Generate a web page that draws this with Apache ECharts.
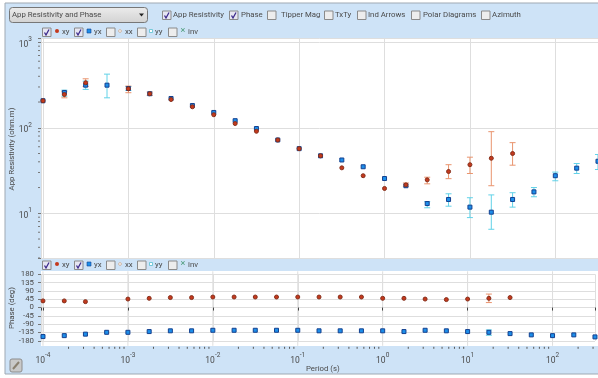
<!DOCTYPE html>
<html><head><meta charset="utf-8">
<style>html,body{margin:0;padding:0;background:#fff;overflow:hidden}#c{width:598px;height:378px}#c canvas{filter:blur(.35px)}</style>
<script src="https://cdn.jsdelivr.net/npm/echarts@6/dist/echarts.min.js"></script>
</head><body><div id="c"></div>
<script>
const periods=[1e-4,1.78e-4,3.16e-4,5.62e-4,1e-3,1.78e-3,3.16e-3,5.62e-3,1e-2,1.78e-2,3.16e-2,5.62e-2,1e-1,1.78e-1,3.16e-1,5.62e-1,1,1.78,3.16,5.62,10,17.8,31.6,56.2,100,178,316];
const xyRes=[207,245,336,null,286,250,214,176,142,112,91,72,57,47,34,27.5,19.5,21.5,24.6,30.8,37,44,50,null,null,null,null];
const xyResLow=[null,224,304,null,257,239,null,null,null,null,null,null,null,null,null,null,null,20.6,22.1,25.4,29.2,21,36.5,null,null,null,null];
const xyResHigh=[null,264,374,null,307,262,null,null,null,null,null,null,null,null,null,null,null,22.6,26.4,37,45.3,90,67,null,null,null,null];
const yxRes=[207,259,315,315,288,250,220,182,151,121,98,72,57,47,42,35,25.5,21,13,14.5,11.8,10.3,14.5,17.8,27.5,33.7,40.6];
const yxResLow=[null,234,281,224,273,null,null,null,null,null,null,null,null,null,null,null,null,null,11.6,12.1,8.9,6.5,11.8,15.6,24,29.2,32.5];
const yxResHigh=[null,275,351,424,304,null,null,null,null,null,null,null,null,null,null,null,null,null,13.7,16.9,15.2,16.4,17.4,20,30.3,38.2,48.7];
const xyPhase=[36,36,32,null,46,50,54,54,57,57,57,57,57,57,57,57,50,50,46,43,46,50,54,null,null,null,null];
const xyPhaseLow=[null,null,null,null,null,null,null,null,null,null,null,null,null,null,null,null,null,null,null,null,null,27,null,null,null,null,null];
const xyPhaseHigh=[null,null,null,null,null,null,null,null,null,null,null,null,null,null,null,null,null,null,null,null,null,73,null,null,null,null,null];
const yxPhase=[-157,-152,-144,-134,-134,-130,-126,-126,-123,-123,-123,-123,-123,-126,-126,-126,-126,-130,-123,-126,-130,-134,-141,-148,-152,-148,-159];
const yxPhaseLow=[null,null,null,null,null,null,null,null,null,null,null,null,null,null,null,null,null,null,null,null,null,-150,null,null,null,null,null];
const yxPhaseHigh=[null,null,null,null,null,null,null,null,null,null,null,null,null,null,null,null,null,null,null,null,null,-121,null,null,null,null,null];
const phaseTicks=[-180,-135,-90,-45,0,45,90,135,180];
const periodDecades=[1e-4,1e-3,1e-2,1e-1,1,10,100];
const resDecades=[1,10,100,1000];
const minorMultipliers=[2,3,4,5,6,7,8,9];
const topChecks=['App Resistivity','Phase','Tipper Mag','TxTy','Ind Arrows','Polar Diagrams','Azimuth'];
const topChecked=[true,true,false,false,false,false,false];
const legendNames=['xy','yx','xx','yy','inv'];
const legendChecked=[true,true,false,false,false];
const dropdownText='App Resistivity and Phase';
const resAxisName='App Resistivity (ohm.m)';
const phaseAxisName='Phase (deg)';
const periodAxisName='Period (s)';

const FONT='Roboto', TC='#4a4a4a', FS=7.8;
const RED='#c4391d', REDB='#86301c', BLUE='#1c8eea', BLUEB='#14408f', REDE='#e9946e', BLUEE='#62d2e8', GRID='#dedede';
const xMin=Math.pow(10,-4.0234), xMax=Math.pow(10,2.5);
const yMin=Math.pow(10,0.477), yMax=Math.pow(10,3.044);

function rows(vals){return periods.map((p,i)=>vals[i]==null?[p,null]:[p,vals[i]]);}
function errs(low,high){const o=[];periods.forEach((p,i)=>{if(low[i]!=null)o.push([p,low[i],high[i]]);});return o;}
function errSeries(data,color,xi,yi){return {type:'custom',xAxisIndex:xi,yAxisIndex:yi,data,silent:true,clip:true,z:2,
  encode:{x:0,y:[1,2]},
  renderItem(params,api){
    const a=api.coord([api.value(0),api.value(1)]),b=api.coord([api.value(0),api.value(2)]);
    const s={stroke:color,lineWidth:1,fill:null},w=3;
    return {type:'group',children:[
      {type:'line',shape:{x1:a[0],y1:a[1],x2:b[0],y2:b[1]},style:s},
      {type:'line',shape:{x1:a[0]-w,y1:a[1],x2:a[0]+w,y2:a[1]},style:s},
      {type:'line',shape:{x1:b[0]-w,y1:b[1],x2:b[0]+w,y2:b[1]},style:s}]};
  }};}
function scatter(data,sym,size,fill,border,xi,yi,z){return {type:'scatter',xAxisIndex:xi,yAxisIndex:yi,data,symbol:sym,symbolSize:size,silent:true,z,
  itemStyle:{color:fill,borderColor:border,borderWidth:1,opacity:1}};}
const minorX=[];periodDecades.forEach(d=>minorMultipliers.forEach(m=>{if(d*m<xMax)minorX.push([d*m,-180]);}));
const minorY=[];resDecades.forEach(d=>minorMultipliers.forEach(m=>{const v=d*m;if(v>yMin&&v<yMax)minorY.push([xMin,v]);}));
function xMinor(){return {type:'custom',xAxisIndex:1,yAxisIndex:1,data:minorX,silent:true,clip:false,z:1,encode:{x:0,y:1},
  renderItem(p,api){const c=api.coord([api.value(0),-180]);return {type:'line',shape:{x1:c[0],y1:c[1]+6,x2:c[0],y2:c[1]+8},style:{stroke:'#555',lineWidth:1}};}};}
function yMinor(){return {type:'custom',xAxisIndex:0,yAxisIndex:0,data:minorY,silent:true,clip:false,z:1,encode:{x:0,y:1},
  renderItem(p,api){const c=api.coord([xMin,api.value(1)]);return {type:'line',shape:{x1:c[0]-3,y1:c[1],x2:c[0]-1,y2:c[1]},style:{stroke:'#777',lineWidth:1}};}};}
function xExt(){return {type:'custom',xAxisIndex:1,yAxisIndex:1,data:periodDecades.map(d=>[d,0]),silent:true,clip:false,z:0,encode:{x:0,y:1},
  renderItem(p,api){const a=api.coord([api.value(0),180]),b=api.coord([api.value(0),-180]);return {type:'line',shape:{x1:a[0],y1:a[1]-3,x2:a[0],y2:b[1]+5},style:{stroke:GRID,lineWidth:1}};}};}
const supFmt=v=>{const e=Math.log10(v);const r=Math.round(e);return Math.abs(e-r)<1e-6?'{b|10}{s|'+r+'}':'';};
const rich={b:{fontFamily:FONT,fontSize:8.5,color:TC,padding:[5,0,0,0]},s:{fontFamily:FONT,fontSize:6.5,color:TC,padding:[0,0,5,0]}};

const g=[];
g.push({type:'rect',z:-20,shape:{x:5,y:3,width:594,height:371},style:{fill:'#cee3f7',stroke:'#9fa9b3',lineWidth:1}});
g.push({type:'rect',z:-19,shape:{x:41,y:271,width:557,height:75},style:{fill:'#fff'}});
function label(t,x,y,opt){g.push(Object.assign({type:'text',z:20,x,y,style:{text:t,font:FS+'px '+FONT,fill:TC,textVerticalAlign:'middle'}},opt||{}));}
function box(x,y,on){
  g.push({type:'rect',z:20,shape:{x:x+.5,y:y+.5,width:8.5,height:8.5},style:{fill:on?'#e6e6f2':'#ededed',stroke:'#8a8a8a',lineWidth:1}});
  if(on)g.push({type:'polyline',z:21,shape:{points:[[x+2.5,y+5],[x+4,y+7.5],[x+7,y+2]]},style:{stroke:'#3c2a8c',lineWidth:1.3,fill:null}});
}
g.push({type:'rect',z:20,shape:{x:9.5,y:7.5,width:138,height:15,r:3},style:{fill:{type:'linear',x:0,y:0,x2:0,y2:1,colorStops:[{offset:0,color:'#ececec'},{offset:1,color:'#d2d2d2'}]},stroke:'#777',lineWidth:1}});
label(dropdownText,12,15);
g.push({type:'polygon',z:21,shape:{points:[[139,13.5],[144,13.5],[141.5,16.5]]},style:{fill:'#222'}});
const topBox=[162,229,267,324,357,411,481], topText=[173,241,281,335,368,423,492];
topChecks.forEach((t,i)=>{box(topBox[i],10.5,topChecked[i]);label(t,topText[i],15);});
function legend(cy){
  const bx=[42,74,106,137,168], mk=[57,89,120,151,183], tx=[62,94,125,155,188];
  legendNames.forEach((n,i)=>{
    box(bx[i],cy-4.5,legendChecked[i]);
    label(n,tx[i],cy);
    const m=mk[i];
    if(n==='xy')g.push({type:'circle',z:21,shape:{cx:m,cy:cy-1,r:2},style:{fill:RED}});
    if(n==='yx')g.push({type:'rect',z:21,shape:{x:m-2,y:cy-3,width:4,height:4},style:{fill:BLUE,stroke:BLUEB,lineWidth:.6}});
    if(n==='xx')g.push({type:'circle',z:21,shape:{cx:m,cy:cy-1,r:1.4},style:{fill:'#fff',stroke:'#c8a890',lineWidth:.8}});
    if(n==='yy')g.push({type:'rect',z:21,shape:{x:m-1.5,y:cy-2.5,width:3,height:3},style:{fill:'#fff',stroke:'#58c0d0',lineWidth:.8}});
    if(n==='inv')g.push({type:'text',z:21,x:m,y:cy-1,style:{text:'×',font:'9px '+FONT,fill:'#4a9a78',textAlign:'center',textVerticalAlign:'middle'}});
  });
}
legend(32);legend(265);
label(resAxisName,12,149,{rotation:Math.PI/2,style:{text:resAxisName,font:FS+'px '+FONT,fill:TC,textAlign:'center',textVerticalAlign:'middle'}});
label(phaseAxisName,12,308,{rotation:Math.PI/2,style:{text:phaseAxisName,font:FS+'px '+FONT,fill:TC,textAlign:'center',textVerticalAlign:'middle'}});
label(periodAxisName,306,369);
g.push({type:'rect',z:20,shape:{x:10,y:359,width:12,height:13,r:2},style:{fill:'#c9c9c9',stroke:'#8d8d8d',lineWidth:1}});
g.push({type:'line',z:21,shape:{x1:13,y1:369,x2:19,y2:362},style:{stroke:'#8a8070',lineWidth:2}});

const chart=echarts.init(document.getElementById('c'),null,{renderer:'canvas',width:598,height:378});
chart.setOption({
  animation:false,backgroundColor:'#fff',
  graphic:{elements:g},
  grid:[
    {left:41,top:38.5,width:558,height:219.5,show:true,backgroundColor:'#fff',borderWidth:0},
    {left:41,top:274.3,width:558,height:66.5,show:false}
  ],
  xAxis:[
    {type:'log',gridIndex:0,min:xMin,max:xMax,axisLine:{show:false},axisTick:{show:false},axisLabel:{show:false},minorTick:{show:false},splitLine:{show:true,lineStyle:{color:GRID,width:1}}},
    {type:'log',gridIndex:1,min:xMin,max:xMax,offset:5.2,axisLine:{show:false},axisTick:{show:true,length:3,lineStyle:{color:'#444'}},minorTick:{show:false},splitLine:{show:true,lineStyle:{color:GRID,width:1}},
     axisLabel:{show:true,margin:5,formatter:supFmt,rich,showMinLabel:true,hideOverlap:false}}
  ],
  yAxis:[
    {type:'log',gridIndex:0,min:yMin,max:yMax,axisLine:{show:false},axisTick:{show:true,length:3,lineStyle:{color:'#777'}},minorTick:{show:false},splitLine:{show:true,lineStyle:{color:GRID,width:1}},
     axisLabel:{margin:9,formatter:supFmt,rich}},
    {type:'value',gridIndex:1,min:-180,max:180,interval:45,axisLine:{show:false},axisTick:{show:true,length:3,lineStyle:{color:'#777'}},splitLine:{show:true,lineStyle:{color:GRID,width:1}},
     axisLabel:{margin:7,fontFamily:FONT,fontSize:FS,color:TC}}
  ],
  series:[
    xExt(),xMinor(),yMinor(),
    errSeries(errs(yxResLow,yxResHigh),BLUEE,0,0),
    errSeries(errs(xyResLow,xyResHigh),REDE,0,0),
    errSeries(errs(yxPhaseLow,yxPhaseHigh),BLUEE,1,1),
    errSeries(errs(xyPhaseLow,xyPhaseHigh),REDE,1,1),
    scatter(rows(yxRes),'rect',4,BLUE,BLUEB,0,0,3),
    scatter(rows(xyRes),'circle',4,RED,REDB,0,0,4),
    scatter(rows(yxPhase),'rect',4,BLUE,BLUEB,1,1,3),
    scatter(rows(xyPhase),'circle',4,RED,REDB,1,1,4)
  ]
});
</script></body></html>
